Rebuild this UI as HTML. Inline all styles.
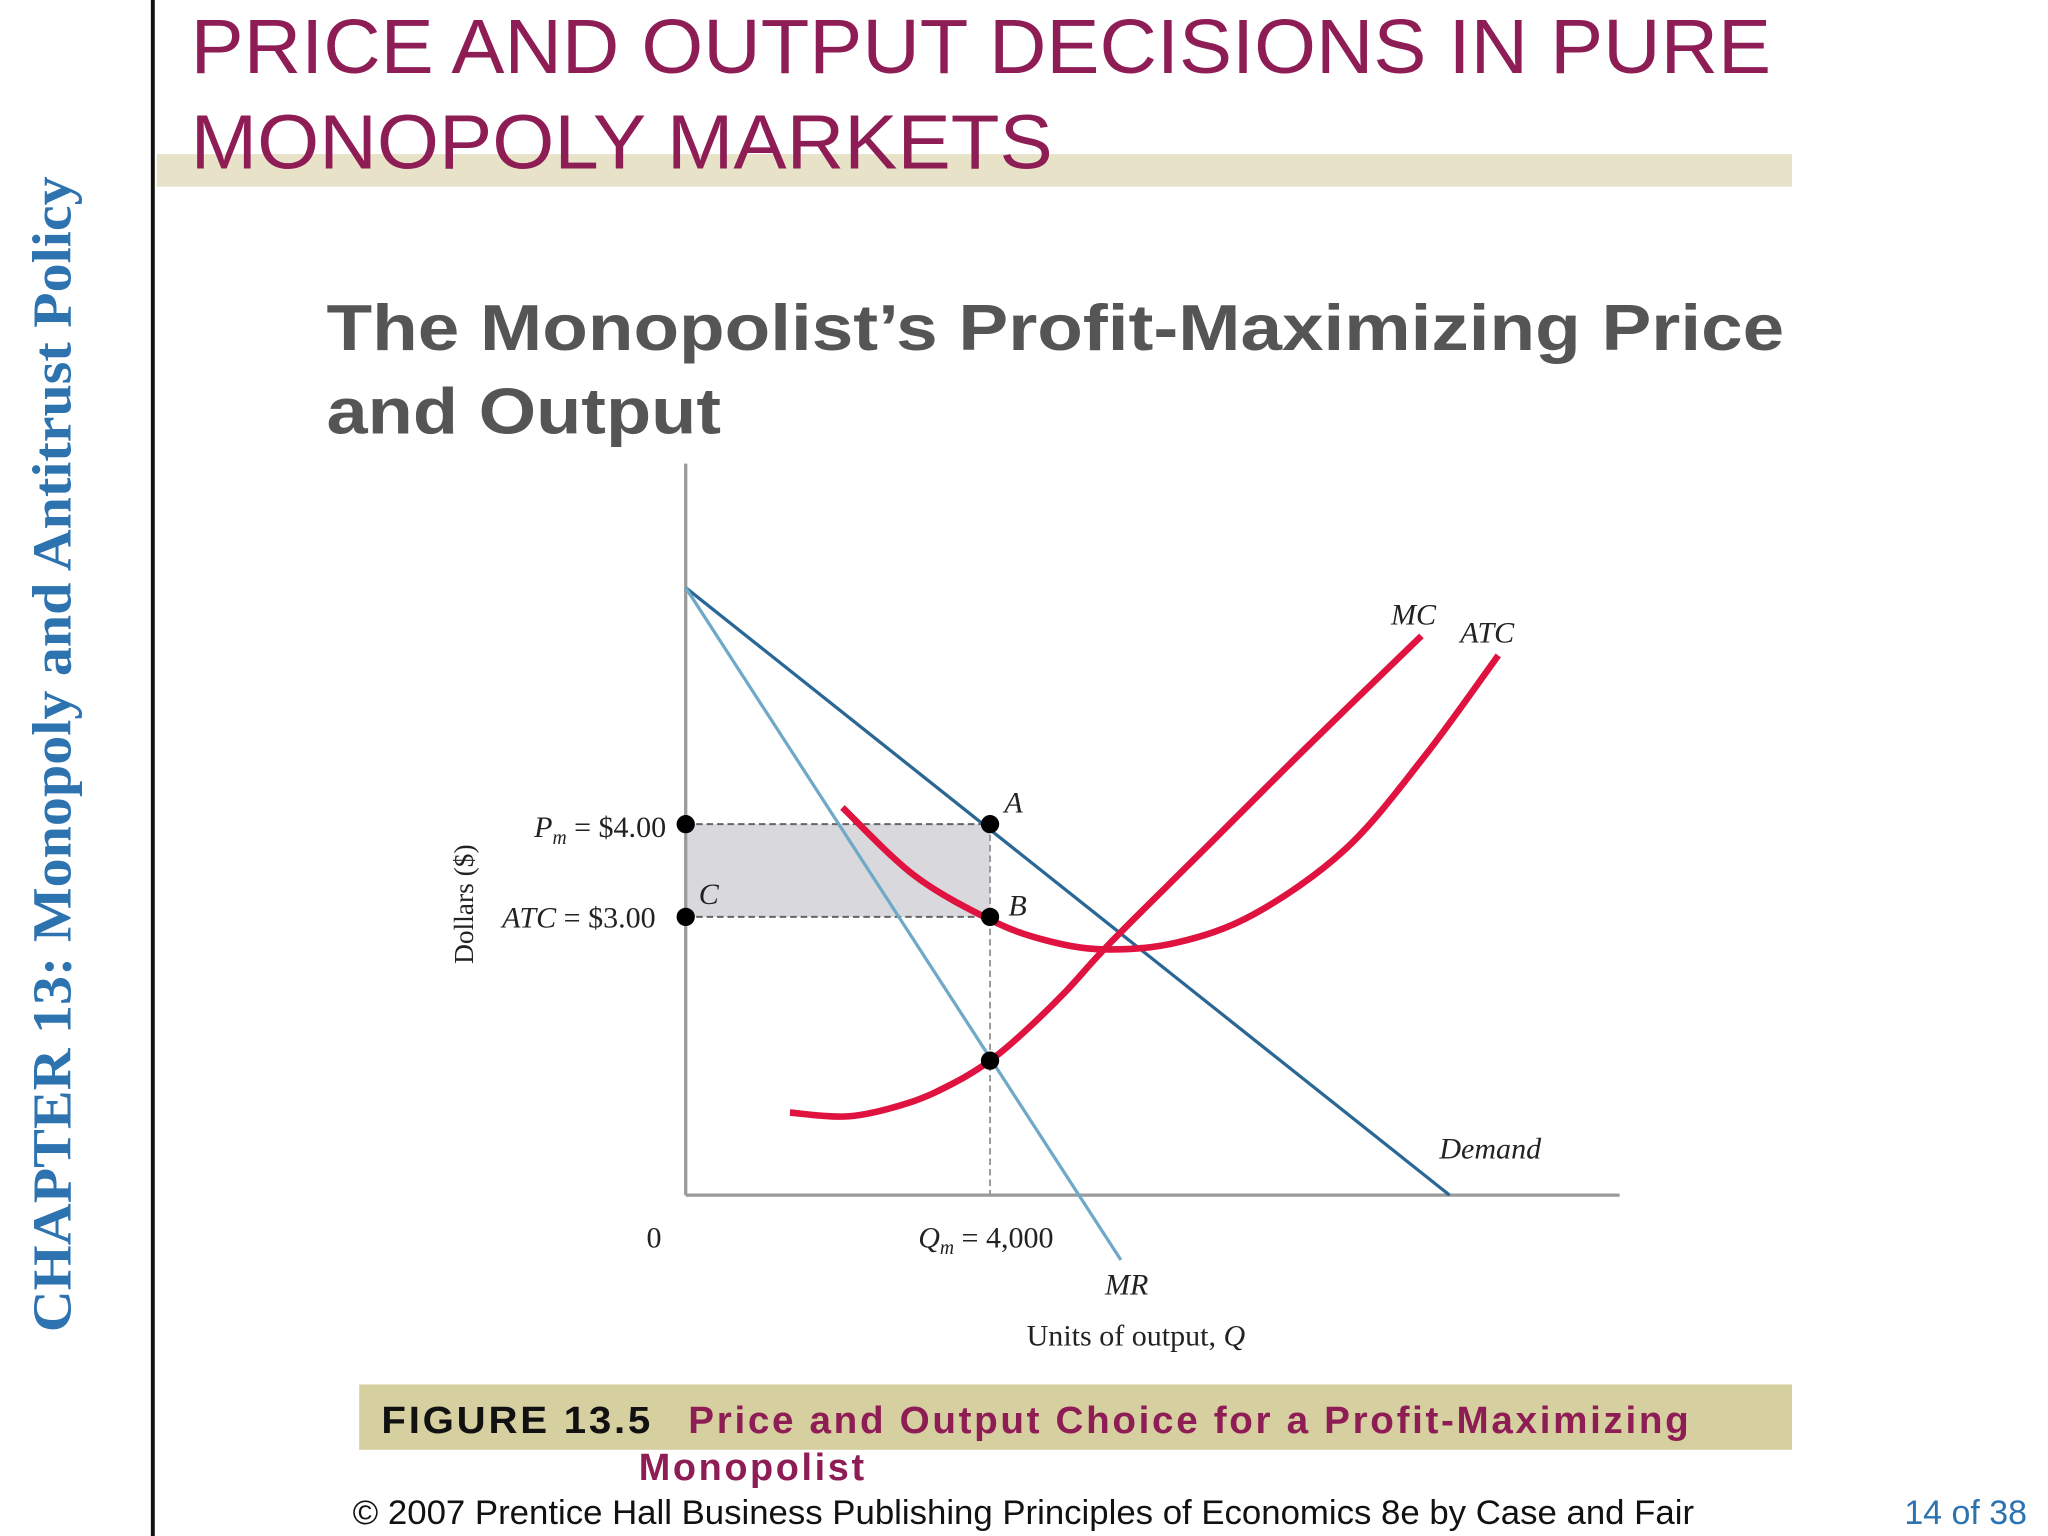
<!DOCTYPE html>
<html><head><meta charset="utf-8">
<style>
html,body{margin:0;padding:0;background:#fff;}
svg{display:block;}
</style></head>
<body>
<svg id="slide" width="2048" height="1536" viewBox="0 0 1568 1176" xmlns="http://www.w3.org/2000/svg">
<rect x="0" y="0" width="1568" height="1176" fill="#fff"/>
<rect x="115.5" y="0" width="3" height="1176" fill="#111"/>
<text transform="translate(54,1020) rotate(-90)" font-family="Liberation Serif, serif" font-weight="bold" font-size="42" fill="#2c73b0" textLength="885" lengthAdjust="spacingAndGlyphs">CHAPTER 13:  Monopoly and Antitrust Policy</text>
<rect x="120" y="118" width="1252" height="25" fill="#e8e3c8"/>
<text font-family="Liberation Sans, sans-serif" font-size="59" fill="#8e1d55">
<tspan x="146" y="56" textLength="1210" lengthAdjust="spacingAndGlyphs">PRICE AND OUTPUT DECISIONS IN PURE</tspan>
<tspan x="146" y="129" textLength="660" lengthAdjust="spacingAndGlyphs">MONOPOLY MARKETS</tspan></text>
<text font-family="Liberation Sans, sans-serif" font-weight="bold" font-size="50" fill="#555">
<tspan x="250" y="268" textLength="1116" lengthAdjust="spacingAndGlyphs">The Monopolist’s Profit-Maximizing Price</tspan>
<tspan x="250" y="332" textLength="302" lengthAdjust="spacingAndGlyphs">and Output</tspan></text>
<g id="chart"></g>
<rect x="275" y="1060" width="1097" height="50" fill="#d6cfa0"/>
<text font-family="Liberation Sans, sans-serif" font-weight="bold" font-size="29" letter-spacing="2">
<tspan x="292" y="1097" fill="#111" textLength="208" lengthAdjust="spacingAndGlyphs">FIGURE 13.5</tspan>
<tspan x="527" y="1097" fill="#8e1d55" textLength="768" lengthAdjust="spacingAndGlyphs">Price and Output Choice for a Profit-Maximizing</tspan>
<tspan x="489" y="1133" fill="#8e1d55">Monopolist</tspan></text>
<text x="270" y="1167" font-family="Liberation Sans, sans-serif" font-size="26" fill="#111" textLength="1027" lengthAdjust="spacingAndGlyphs">© 2007 Prentice Hall Business Publishing   Principles of Economics 8e by Case and Fair</text>
<text x="1458" y="1167" font-family="Liberation Sans, sans-serif" font-size="26" fill="#2c73b0">14 of 38</text>
</svg>
<script>
// data (Q in thousands, P in dollars)
const demandQ = [0, 10.04];
const demandP = [6.55, 0];
const mrQ = [0, 5.72];
const mrP = [6.55, -0.7];
const mcQ = [1.37, 2.15, 2.95, 3.55, 4.0, 4.45, 5.0, 5.58, 6.78, 8.15, 9.67];
const mcP = [0.89, 0.85, 1.0, 1.22, 1.45, 1.76, 2.2, 2.72, 3.70, 4.82, 6.03];
const atcQ = [2.06, 3.0, 4.0, 4.72, 5.49, 6.44, 7.47, 8.67, 9.70, 10.68];
const atcP = [4.18, 3.45, 2.97, 2.75, 2.65, 2.72, 3.03, 3.73, 4.72, 5.82];
const qm = 4.0, pm = 4.0, atcm = 3.0, mcAtQm = 1.45;

const NS = "http://www.w3.org/2000/svg";
const g = document.getElementById('chart');
const X = q => 525 + q * 58.25;
const Y = p => 915 - p * 71;
function el(tag, attrs, text) {
  const e = document.createElementNS(NS, tag);
  for (const k in attrs) e.setAttribute(k, attrs[k]);
  if (text !== undefined) e.textContent = text;
  g.appendChild(e);
  return e;
}
function smooth(qs, ps) {
  const pts = qs.map((q, i) => [X(q), Y(ps[i])]);
  let d = `M${pts[0][0]},${pts[0][1]}`;
  for (let i = 0; i < pts.length - 1; i++) {
    const p0 = pts[Math.max(0, i - 1)], p1 = pts[i], p2 = pts[i + 1], p3 = pts[Math.min(pts.length - 1, i + 2)];
    const c1 = [p1[0] + (p2[0] - p0[0]) / 6, p1[1] + (p2[1] - p0[1]) / 6];
    const c2 = [p2[0] - (p3[0] - p1[0]) / 6, p2[1] - (p3[1] - p1[1]) / 6];
    d += ` C${c1[0]},${c1[1]} ${c2[0]},${c2[1]} ${p2[0]},${p2[1]}`;
  }
  return d;
}
let e;
e = el('rect', {x: X(0), y: Y(pm), width: X(qm) - X(0), height: Y(atcm) - Y(pm), fill: '#d9d9dd'});


e = el('line', {x1: X(0), y1: 355, x2: X(0), y2: Y(0), stroke: '#9a9a9a', 'stroke-width': 2.5});


e = el('line', {x1: X(0), y1: Y(0), x2: 1240, y2: Y(0), stroke: '#9a9a9a', 'stroke-width': 2.5});


e = el('line', {x1: X(0), y1: Y(pm), x2: X(qm), y2: Y(pm), stroke: '#666', 'stroke-width': 1.5, 'stroke-dasharray': '5,3'});


e = el('line', {x1: X(0), y1: Y(atcm), x2: X(qm), y2: Y(atcm), stroke: '#666', 'stroke-width': 1.5, 'stroke-dasharray': '5,3'});


e = el('line', {x1: X(qm), y1: Y(pm), x2: X(qm), y2: Y(0), stroke: '#999', 'stroke-width': 1.5, 'stroke-dasharray': '5,3'});


e = el('line', {x1: X(demandQ[0]), y1: Y(demandP[0]), x2: X(demandQ[1]), y2: Y(demandP[1]), stroke: '#2b6795', 'stroke-width': 2.5});


e = el('line', {x1: X(mrQ[0]), y1: Y(mrP[0]), x2: X(mrQ[1]), y2: Y(mrP[1]), stroke: '#6fa9c7', 'stroke-width': 2.5});


e = el('path', {d: smooth(mcQ, mcP), fill: 'none', stroke: '#e0123f', 'stroke-width': 5, 'stroke-linecap': 'butt'});


e = el('path', {d: smooth(atcQ, atcP), fill: 'none', stroke: '#e0123f', 'stroke-width': 5});


[[0, pm, 'point-pm'], [qm, pm, 'point-a'], [0, atcm, 'point-c'], [qm, atcm, 'point-b'], [qm, mcAtQm, 'point-mc-mr']].forEach(p => {
  const c = el('circle', {cx: X(p[0]), cy: Y(p[1]), r: 7, fill: '#000'});
  
  
});
const F = 'Liberation Serif, serif';
function label(x, y, txt, name, opts) {
  const t = el('text', Object.assign({x: x, y: y, 'font-family': F, 'font-size': 23, fill: '#222'}, opts || {}));
  t.innerHTML = txt;
  
  
  return t;
}
label(1065, 478, 'MC', 'mc-label', {'font-style': 'italic'});
label(1118, 492, 'ATC', 'atc-label', {'font-style': 'italic'});
label(769, 622, 'A', 'a-label', {'font-style': 'italic'});
label(772, 701, 'B', 'b-label', {'font-style': 'italic'});
label(535, 692, 'C', 'c-label', {'font-style': 'italic'});
label(1102, 887, 'Demand', 'demand-label', {'font-style': 'italic'});
label(846, 991, 'MR', 'mr-label', {'font-style': 'italic'});
label(495, 955, '0', 'origin-label');
label(703, 955, '<tspan font-style="italic">Q</tspan><tspan font-style="italic" font-size="15" dy="5">m</tspan><tspan dy="-5"> = 4,000</tspan>', 'qm-label');
label(786, 1030, 'Units of output, <tspan font-style="italic">Q</tspan>', 'x-axis-title');
label(510, 641, '<tspan font-style="italic">P</tspan><tspan font-style="italic" font-size="15" dy="5">m</tspan><tspan dy="-5"> = $4.00</tspan>', 'pm-label', {'text-anchor': 'end'});
label(502, 710, '<tspan font-style="italic">ATC</tspan> = $3.00', 'atc-value-label', {'text-anchor': 'end'});
label(0, 0, 'Dollars ($)', 'y-axis-title', {transform: 'translate(362,738) rotate(-90)', 'font-size': 21});
</script>
</body></html>
